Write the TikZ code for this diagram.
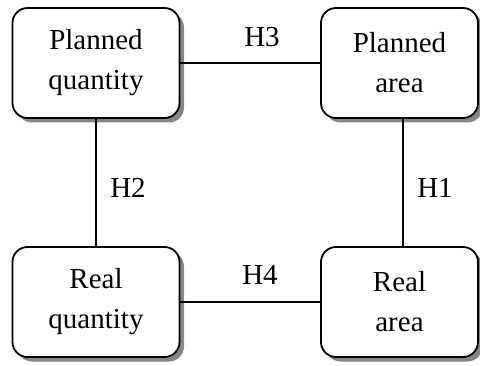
\documentclass[tikz,border=0pt]{standalone}
\usepackage{fontspec}
\setmainfont{Liberation Serif}
\usetikzlibrary{shadows}
\begin{document}
\begin{tikzpicture}[x=1pt,y=1pt,
  box/.style={draw=black, line width=1.8pt, rounded corners=15pt, fill=white,
    inner sep=0pt, align=center, minimum height=110pt,
    font=\fontsize{29}{40}\selectfont,
    drop shadow={shadow xshift=4.5pt, shadow yshift=-4.5pt, fill=gray!95, opacity=1}},
  conn/.style={line width=2pt},
  lbl/.style={font=\fontsize{29}{34}\selectfont, inner sep=0pt}]
\useasboundingbox (0,0) rectangle (480,365);
\node[box, minimum width=167pt] (pq) at (96,302) {Planned\\quantity};
\node[box, minimum width=157pt] (pa) at (399.5,302) {Planned\\area};
\node[box, minimum width=167pt] (rq) at (96,63) {Real\\quantity};
\node[box, minimum width=157pt] (ra) at (399.5,63) {Real\\area};
\draw[conn] (pq.east) -- (pa.west);
\draw[conn] (rq.east) -- (ra.west);
\draw[conn] (pq.south) -- (rq.north);
\draw[conn] ([xshift=3.5pt]pa.south) -- ([xshift=3.5pt]ra.north);
\node[lbl] (h3) at (262,328) {H3};
\node[lbl] (h4) at (260,90) {H4};
\node[lbl] (h2) at (128,177) {H2};
\node[lbl] (h1) at (435,177) {H1};
\end{tikzpicture}
\end{document}
